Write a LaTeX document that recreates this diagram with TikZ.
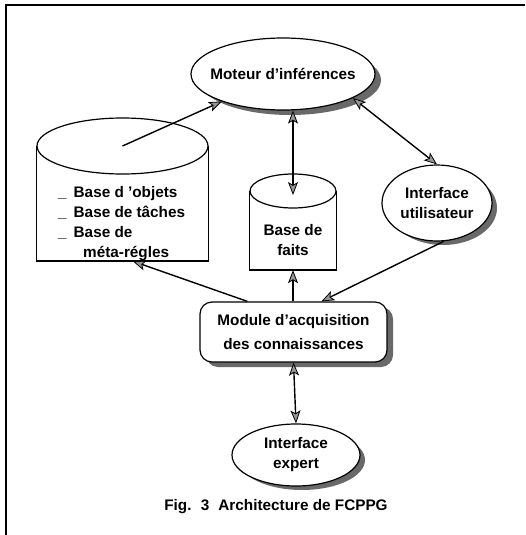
\documentclass[tikz,border=0pt]{standalone}
\usetikzlibrary{arrows.meta,shapes.geometric}
\font\lsb="Liberation Sans/B:mapping=tex-text" at 15.3pt
\definecolor{shgray}{RGB}{105,105,105}
\definecolor{tipgray}{RGB}{150,150,150}
\begin{document}
\begin{tikzpicture}[x=1pt,y=-1pt,
  txt/.style={font={\fontsize{15.3}{20}\selectfont\lsb}},
  lbl/.style={txt,align=center,inner sep=0pt},
  oval/.style={ellipse,draw,line width=1.2pt,fill=white,inner sep=0pt},
  modbox/.style={rectangle,rounded corners=12pt,draw,line width=1.2pt,fill=white,inner sep=0pt},
  tipA/.tip={Stealth[length=13pt,width=10pt,inset=3pt,fill=tipgray,line width=0.8pt]},
  conn/.style={line width=1.4pt,-tipA},
  dconn/.style={line width=1.4pt,tipA-tipA},
  cyl/.style={line width=1.2pt,fill=white}
]
\useasboundingbox (0,0) rectangle (525,535);

% shadows (drawn first, behind the shapes)
\fill[shgray] (290,80) ellipse [x radius=91pt,y radius=35pt];
\fill[shgray] (443,208) ellipse [x radius=54pt,y radius=37pt];
\fill[shgray] (302,460) ellipse [x radius=63pt,y radius=30pt];
\fill[shgray,rounded corners=12pt] (206,307) rectangle (393,367);

\draw[line width=1.8pt] (525,5) -- (6,5) -- (6,535);

% nodes
\node[oval,minimum width=184pt,minimum height=72pt] (moteur) at (283,74) {};
\node[lbl] (moteurtxt) at (moteur.center) {Moteur d'inférences};
\node[oval,minimum width=110pt,minimum height=76pt] (util) at (437,203) {};
\node[lbl] (utiltxt) at (util.center) {Interface\\utilisateur};
\node[modbox,minimum width=187pt,minimum height=60pt] (module) at (293.5,332) {};
\node[lbl,font={\fontsize{15.3}{24}\selectfont\lsb}] (moduletxt) at (module.center) {Module d'acquisition\\des connaissances};
\node[oval,minimum width=128pt,minimum height=62pt] (expert) at (296,455) {};
\node[lbl] (experttxt) at (expert.center) {Interface\\expert};

% big cylinder
\coordinate (bigtop) at (122.5,146);
\node[minimum width=171pt,minimum height=143pt,inner sep=0pt] (bigcyl) at (122.5,189.5) {};
\draw[cyl] (bigcyl.west |- bigtop) -- (bigcyl.south west) -- (bigcyl.south east) -- (bigcyl.east |- bigtop);
\draw[line width=2pt] (bigcyl.south west) -- (bigcyl.south east);
\draw[cyl] (bigtop) ellipse [x radius=85.5pt,y radius=28pt];
\node[txt,align=left,anchor=north west,inner sep=0pt] (bigtxt) at (58,186)
  {\_\hspace{7pt}Base d 'objets\\
   \_\hspace{7pt}Base de tâches\\
   \_\hspace{7pt}Base de\\
   \hspace*{25pt}méta-régles};

% small cylinder
\coordinate (faitstop) at (293,191);
\node[minimum width=86pt,minimum height=96pt,inner sep=0pt] (faits) at (293,222) {};
\draw[cyl] (faits.west |- faitstop) -- (faits.south west) -- (faits.south east) -- (faits.east |- faitstop);
\draw[line width=2pt] (faits.south west) -- (faits.south east);
\draw[cyl] (faitstop) ellipse [x radius=43pt,y radius=17pt];
\node[lbl] (faitstxt) at (293,240) {Base de\\faits};

% connectors
\draw[conn] (bigtop) -- (moteur);
\draw[dconn] (moteur.south -| faitstop) -- ([yshift=-4pt]faitstop);
\draw[dconn] (moteur.-19) -- (util.north);
\draw[conn] (util.-80) -- ([xshift=122pt]module.north west);
\draw[conn] (faits.south |- module.north) -- (faits.south);
\draw[conn] ([xshift=48pt]module.north west) -- ([xshift=96pt]bigcyl.south west);
\draw[dconn] (module.south) -- (expert.north);

% caption
\node[txt] (cap) at (276,507) {Fig.\hspace{0.6em}3\hspace{0.6em}Architecture de FCPPG};
\end{tikzpicture}
\end{document}
